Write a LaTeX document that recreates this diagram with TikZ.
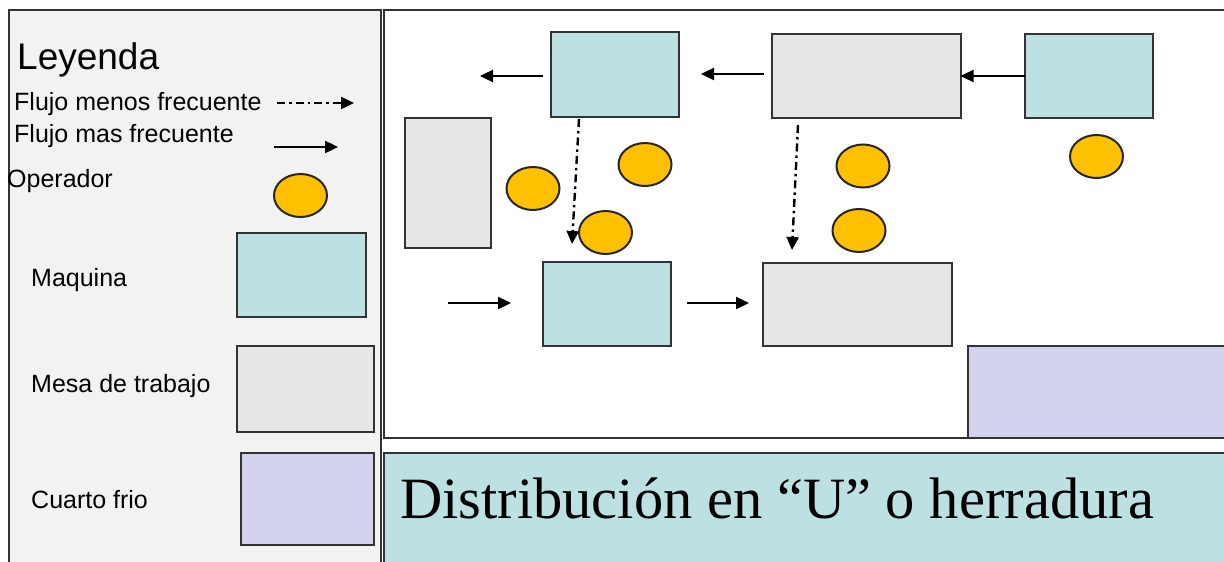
\documentclass[tikz,border=0pt]{standalone}
\usepackage{fontspec}
\setmainfont{Liberation Sans}
\newfontfamily\titlefont{Liberation Serif}
\usetikzlibrary{shapes.geometric,arrows.meta}
\definecolor{machinec}{HTML}{BDE0E3}
\definecolor{tablec}{HTML}{E6E6E6}
\definecolor{coldc}{HTML}{D3D3F0}
\definecolor{operc}{HTML}{FFC000}
\definecolor{legendc}{HTML}{F2F2F2}
\definecolor{edgec}{HTML}{333333}
\begin{document}
\begin{tikzpicture}[x=1pt,y=-1pt,
 box/.style={draw=edgec, line width=2.4pt, inner sep=0, outer sep=0},
 machine/.style={box, fill=machinec},
 worktable/.style={box, fill=tablec},
 coldroom/.style={box, fill=coldc},
 operator/.style={ellipse, draw=black!85, line width=2pt, fill=operc, minimum width=53pt, minimum height=43pt, inner sep=0},
 lbl/.style={anchor=base west, inner sep=0, font=\fontsize{25}{30}\selectfont},
 flow/.style={line width=2.4pt, -{Triangle[length=13pt,width=12pt]}},
 lessflow/.style={flow, dash pattern=on 8pt off 4pt on 2.5pt off 4pt},
 panel/.style={draw=edgec, line width=2.4pt}
]
\useasboundingbox (0,0) rectangle (1224,562);
\clip (0,0) rectangle (1224,562);
\fill[white] (0,0) rectangle (1224,562);
% panels
\draw[panel, fill=legendc] (9,10) rectangle (381,600);
\draw[panel, fill=white] (384,10) rectangle (1260,438);
\draw[panel, fill=machinec] (384,453) rectangle (1260,600);

% legend
\node[anchor=base west, inner sep=0, font=\fontsize{37}{44}\selectfont] (ley) at (17,69) {Leyenda};
\node[lbl] (lmenos) at (14,110) {Flujo menos frecuente};
\node[lbl] (lmas) at (14,142) {Flujo mas frecuente};
\node[lbl] (lop) at (7,187) {Operador};
\coordinate (lda) at (277,103);
\coordinate (ldb) at (354,103);
\draw[lessflow] (lda) -- (ldb);
\coordinate (lsa) at (274,147);
\coordinate (lsb) at (338,147);
\draw[flow] (lsa) -- (lsb);
\node[operator] (lopsym) at (300.5,195.5) {};
\node[lbl] (lmaq) at (31,286) {Maquina};
\node[machine, minimum width=129pt, minimum height=84pt] (lmaqsym) at (301.5,275) {};
\node[lbl] (lmesa) at (31,392) {Mesa de trabajo};
\node[worktable, minimum width=137pt, minimum height=86pt] (lmesasym) at (305.5,389) {};
\node[lbl] (lcf) at (31,508) {Cuarto frio};
\node[coldroom, minimum width=133pt, minimum height=92pt] (lcfsym) at (307.5,499) {};

% layout
\node[machine, minimum width=128pt, minimum height=85pt] (m1) at (615,74.5) {};
\node[worktable, minimum width=189pt, minimum height=84pt] (t1) at (866.5,76) {};
\node[machine, minimum width=128pt, minimum height=84pt] (m2) at (1089,76) {};
\node[worktable, minimum width=86pt, minimum height=130pt] (t0) at (448,183) {};
\node[machine, minimum width=128pt, minimum height=84pt] (m3) at (607,304) {};
\node[worktable, minimum width=189pt, minimum height=83pt] (t2) at (857.5,304.5) {};
\draw[coldroom] (968,346) rectangle (1260,438);
\coordinate (cf) at (968,346);

\node[operator] (o1) at (533,188.5) {};
\node[operator] (o2) at (645,164.5) {};
\node[operator] (o3) at (605.5,232.5) {};
\node[operator] (o4) at (863,166) {};
\node[operator] (o5) at (859,230.5) {};
\node[operator] (o6) at (1096.5,156.5) {};

% flows
\draw[flow] (m2.west) -- ([xshift=-0.5pt]t1.east);
\draw[flow] ([xshift=-8pt,yshift=2pt]t1.west) -- ([xshift=22pt,yshift=0.5pt]m1.east);
\coordinate (outl) at (480,76);
\draw[flow] ([xshift=-8pt,yshift=-1.5pt]m1.west) -- (outl);
\coordinate (inl) at (448,303);
\draw[flow] (inl) -- ([xshift=-32pt,yshift=1pt]m3.west);
\draw[flow] ([xshift=16pt,yshift=1pt]m3.east) -- ([xshift=-14pt,yshift=1.5pt]t2.west);
\draw[lessflow] ([xshift=-36pt,yshift=-2pt]m1.south) -- ([xshift=-35pt,yshift=18pt]m3.north);
\draw[lessflow] ([xshift=-68.5pt,yshift=-7pt]t1.south) -- ([xshift=-65.5pt,yshift=13pt]t2.north);

% title
\node[anchor=base west, inner sep=0, font=\titlefont\fontsize{58.5}{70}\selectfont] (title) at (400,518) {Distribución en “U” o herradura};
\end{tikzpicture}
\end{document}
